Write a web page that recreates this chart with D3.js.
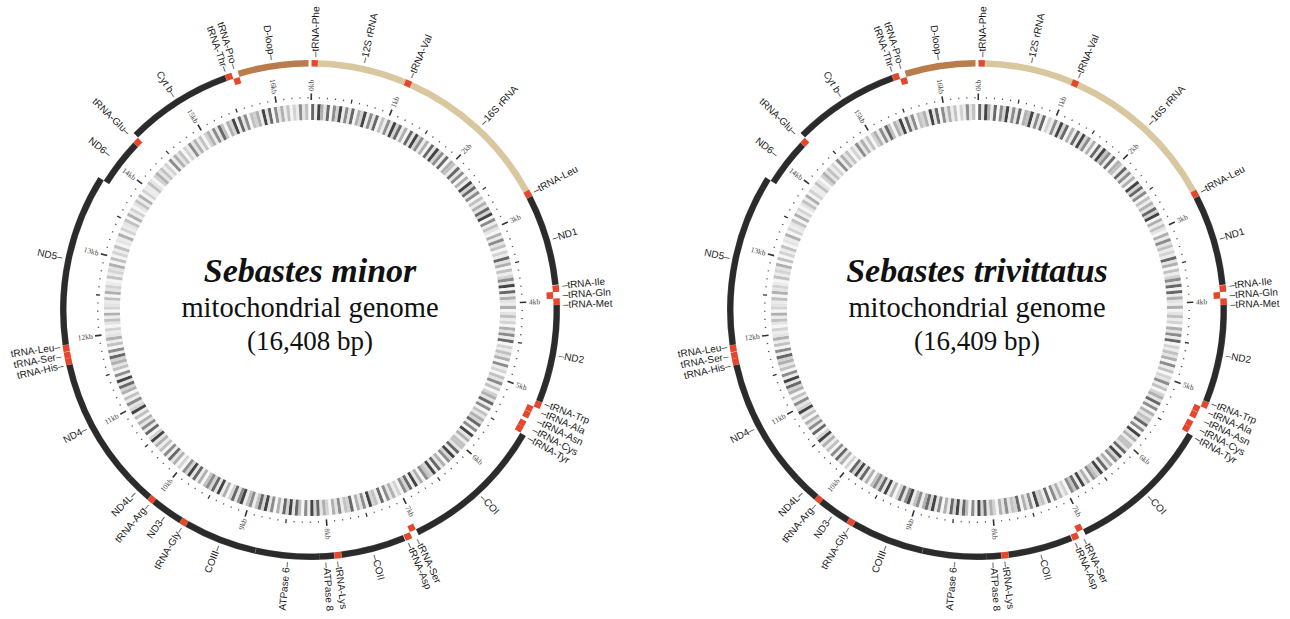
<!DOCTYPE html>
<html>
<head>
<meta charset="utf-8">
<script src="https://cdn.jsdelivr.net/npm/d3@7"></script>
<style>
  html, body { margin: 0; padding: 0; background: #fff; }
  svg { display: block; }
</style>
</head>
<body>
<svg id="chart" width="1290" height="619"></svg>
<script>
// ---- Gene map (shared gene order, per-genome coordinates) ----
const geneNames = ["tRNA-Phe","12S rRNA","tRNA-Val","16S rRNA","tRNA-Leu","ND1","tRNA-Ile","tRNA-Gln","tRNA-Met","ND2",
  "tRNA-Trp","tRNA-Ala","tRNA-Asn","tRNA-Cys","tRNA-Tyr","COI","tRNA-Ser","tRNA-Asp","COII","tRNA-Lys",
  "ATPase 8","ATPase 6","COIII","tRNA-Gly","ND3","tRNA-Arg","ND4L","ND4","tRNA-His","tRNA-Ser",
  "tRNA-Leu","ND5","ND6","tRNA-Glu","Cyt b","tRNA-Thr","tRNA-Pro","D-loop"];
const geneKinds = ["trna","rrna","trna","rrna","trna","gene","trna","trna","trna","gene",
  "trna","trna","trna","trna","trna","gene","trna","trna","gene","trna",
  "gene","gene","gene","trna","gene","trna","gene","gene","trna","trna",
  "trna","gene","gene","trna","gene","trna","trna","dloop"];
const geneStrands = ["H","H","H","H","H","H","H","L","H","H",
  "H","L","L","L","L","H","L","H","H","H",
  "H","H","H","H","H","H","H","H","H","H",
  "H","H","L","L","H","H","L","H"];

const minorStarts = [1,69,1018,1090,2780,2854,3833,3902,3972,4042,
  5089,5161,5231,5340,5406,5477,7028,7102,7180,7871,
  7947,8105,8787,9572,9644,9991,10060,10350,11731,11800,
  11871,11944,13779,14301,14374,15515,15586,15656];
const minorEnds = [68,1017,1089,2779,2853,3828,3902,3972,4041,5088,
  5159,5229,5303,5405,5475,7027,7098,7173,7870,7945,
  8114,8787,9571,9643,9992,10059,10356,11730,11799,11866,
  11943,13782,14300,14369,15514,15586,15655,16408];

const trivStarts = [1,69,1018,1090,2780,2854,3833,3902,3972,4042,
  5089,5161,5231,5340,5406,5477,7028,7102,7180,7871,
  7947,8105,8787,9572,9644,9991,10060,10350,11731,11800,
  11871,11944,13779,14301,14374,15515,15586,15656];
const trivEnds = [68,1017,1089,2779,2853,3828,3902,3972,4041,5088,
  5159,5229,5303,5405,5475,7027,7098,7173,7870,7945,
  8114,8787,9571,9643,9992,10059,10356,11730,11799,11866,
  11943,13782,14300,14369,15514,15586,15655,16409];

const genomeTitles = ["Sebastes minor", "Sebastes trivittatus"];
const genomeSizes = [16408, 16409];
const sizeLabels = ["(16,408 bp)", "(16,409 bp)"];
const subtitle = "mitochondrial genome";

// kilobase ruler
const kbTicks = [0,1000,2000,3000,4000,5000,6000,7000,8000,9000,10000,11000,12000,13000,14000,15000,16000];
const kbLabels = ["0kb","1kb","2kb","3kb","4kb","5kb","6kb","7kb","8kb","9kb","10kb","11kb","12kb","13kb","14kb","15kb","16kb"];

// sequence composition band, one digit (0 light .. 9 dark) per 40-bp window
const gcMinor =
  "8296381749273816492738152" + "7394826183947261839472816" + "5283716294837152638491725" +
  "3162735142836152473918263" + "2613524163728142536172415" + "3725146382715364827193625" +
  "5382947163829457163928471" + "4263718254927361845273614" + "6384927158394826173948527" +
  "5297384162938475162839471" + "4163827152639418273615294" + "3725164839271536482715263" +
  "2413526143251634215243615" + "1425132614235162413526142" + "2531463524172635142736251" +
  "4627385164928371546293817" + "36251427352";
const gcTriv =
  "8396281749273816592738142" + "7394816283947261839572816" + "5283726194837152638491625" +
  "3162735242836152473818263" + "2613524163728142536172514" + "3725146382716354827193625" +
  "5382947163829457163928571" + "4263718254927361845373614" + "6384927158394826173948627" +
  "5297384162938475162839481" + "4163827152639418273615394" + "3725164839271536482715263" +
  "2413526143251634215243615" + "1425132614235162413526142" + "2531463524172635142736251" +
  "4627385164928371546293817" + "36251427352";
const gcWindow = 40;

// ---- Drawing ----
const svg = d3.select("#chart");
const R = { gcIn: 190, gcOut: 206, lIn: 237, lOut: 243.5, hIn: 243.5, hOut: 250, label: 253, tickLabel: 219 };
const kindColor = { gene: "#2b2b2b", trna: "#e5472c", rrna: "#d8c79f", dloop: "#b97c4b" };
const labelFont = "'Liberation Sans', Arial, sans-serif";
const arc = d3.arc();

function polar(r, a) { return [r * Math.sin(a), -r * Math.cos(a)]; }

function spreadLabels(items, minSep) {
  items.sort((a, b) => a.pos - b.pos);
  for (let it = 0; it < 400; it++) {
    let moved = false;
    for (let i = 1; i < items.length; i++) {
      const d = items[i].pos - items[i - 1].pos;
      if (d < minSep - 1e-6) {
        const s = (minSep - d) / 2;
        items[i].pos += s; items[i - 1].pos -= s; moved = true;
      }
    }
    if (!moved) break;
  }
}

function drawGenome(cx, cy, size, starts, ends, gc, title, sizeLabel) {
  const g = svg.append("g").attr("transform", `translate(${cx},${cy})`);
  const ang = d3.scaleLinear().domain([0, size]).range([0.006, 2 * Math.PI - 0.006]);
  const toDeg = a => a * 180 / Math.PI;

  // composition band
  const gcVals = gc.split("").map(Number);
  const gray = d3.scaleLinear().domain([0, 3, 6, 9]).range(["#fdfdfd", "#e4e4e4", "#b0b0b0", "#444444"]);
  g.append("g").selectAll("path").data(gcVals).join("path")
    .attr("d", (v, i) => arc({
      innerRadius: R.gcIn, outerRadius: R.gcOut,
      startAngle: ang(i * gcWindow),
      endAngle: Math.min(ang(size), ang((i + 1) * gcWindow) + 0.0008)
    }))
    .attr("fill", v => gray(v));

  // ruler ticks every 100 bp
  const minor = d3.range(0, size, 100);
  g.append("g").selectAll("line").data(minor).join("line")
    .each(function (bp) {
      const a = ang(bp);
      let r0, r1, w, c;
      if (bp % 1000 === 0) { r0 = 210; r1 = 216.5; w = 1.6; c = "#333"; }
      else if (bp % 500 === 0) { r0 = 210.5; r1 = 214.5; w = 1.3; c = "#333"; }
      else { r0 = 211.5; r1 = 213; w = 1.1; c = "#555"; }
      const p0 = polar(r0, a), p1 = polar(r1, a);
      d3.select(this).attr("x1", p0[0]).attr("y1", p0[1]).attr("x2", p1[0]).attr("y2", p1[1])
        .attr("stroke", c).attr("stroke-width", w);
    });

  // ruler labels
  g.append("g").selectAll("text").data(kbTicks.filter(t => t < size)).join("text")
    .each(function (bp) {
      const a = ang(bp), d = toDeg(a);
      const p = polar(R.tickLabel, a);
      const right = d < 180;
      d3.select(this)
        .attr("transform", `translate(${p[0]},${p[1]}) rotate(${right ? d - 90 : d + 90})`)
        .attr("text-anchor", right ? "start" : "end")
        .attr("dominant-baseline", "central")
        .attr("font-family", "'Liberation Serif', serif")
        .attr("font-size", 7.5)
        .attr("fill", "#444")
        .text(kbLabels[kbTicks.indexOf(bp)]);
    });

  // gene features
  const feats = geneNames.map((name, i) => ({
    name, kind: geneKinds[i], strand: geneStrands[i], start: starts[i], end: ends[i]
  }));
  g.append("g").selectAll("path").data(feats).join("path")
    .attr("d", f => arc({
      innerRadius: f.strand === "L" ? R.lIn : R.hIn,
      outerRadius: f.strand === "L" ? R.lOut : R.hOut,
      startAngle: ang(f.start - 1),
      endAngle: ang(f.end)
    }))
    .attr("fill", f => kindColor[f.kind])
    .attr("stroke", f => f.kind === "gene" ? "rgba(255,255,255,0.25)" : "none")
    .attr("stroke-width", 0.5);

  // gene labels, fanned apart where crowded
  const items = feats.map(f => {
    const a = toDeg(ang((f.start + f.end) / 2));
    return { name: f.name, angle: a, pos: a };
  });
  const rightItems = items.filter(d => d.angle < 180);
  const leftItems = items.filter(d => d.angle >= 180);
  spreadLabels(rightItems, 2.15);
  spreadLabels(leftItems, 2.15);
  g.append("g").selectAll("text").data(rightItems.concat(leftItems)).join("text")
    .each(function (d) {
      const a = d.pos * Math.PI / 180;
      const p = polar(R.label, a);
      const right = d.angle < 180;
      d3.select(this)
        .attr("transform", `translate(${p[0]},${p[1]}) rotate(${right ? d.pos - 90 : d.pos + 90})`)
        .attr("text-anchor", right ? "start" : "end")
        .attr("dominant-baseline", "central")
        .attr("font-family", labelFont)
        .attr("font-size", 10)
        .attr("fill", "#1a1a1a")
        .text(right ? "\u2013" + d.name : d.name + "\u2013");
    });

  // centre caption
  const cap = g.append("g").attr("text-anchor", "middle").attr("font-family", "'Liberation Serif', 'Times New Roman', serif").attr("fill", "#111");
  cap.append("text").attr("y", -28).attr("font-size", 34).attr("font-weight", "bold").attr("font-style", "italic").text(title);
  cap.append("text").attr("y", 7).attr("font-size", 28.5).text(subtitle);
  cap.append("text").attr("y", 40).attr("font-size", 27).text(sizeLabel);
}

drawGenome(310, 310, genomeSizes[0], minorStarts, minorEnds, gcMinor, genomeTitles[0], sizeLabels[0]);
drawGenome(977, 310, genomeSizes[1], trivStarts, trivEnds, gcTriv, genomeTitles[1], sizeLabels[1]);
</script>
</body>
</html>
